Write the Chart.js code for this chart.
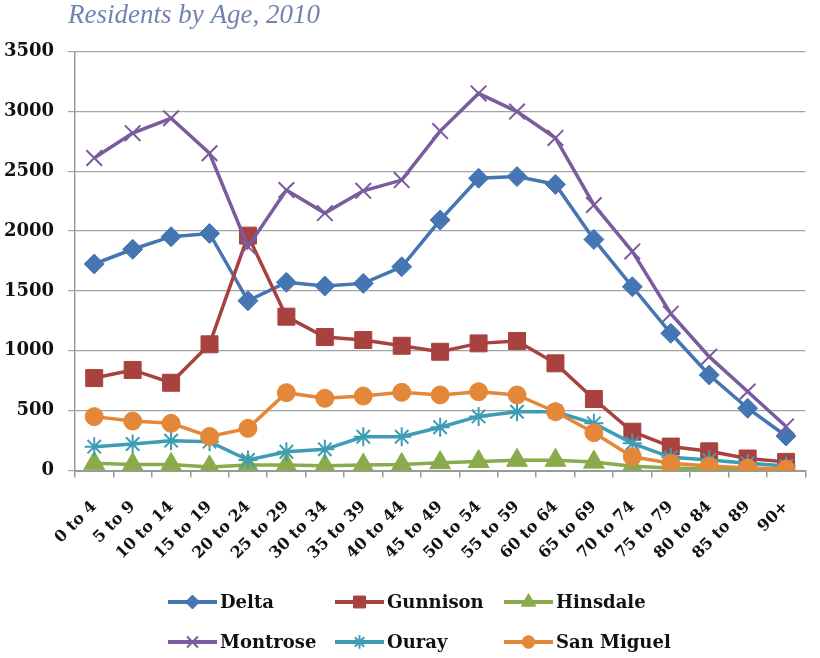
<!DOCTYPE html>
<html>
<head>
<meta charset="utf-8">
<script src="https://cdn.jsdelivr.net/npm/chart.js@4.4.1/dist/chart.umd.min.js"></script>
<style>
  html, body { margin: 0; padding: 0; background: #ffffff; }
  #wrap { position: relative; width: 820px; height: 658px; }
</style>
</head>
<body>
<div id="wrap"><canvas id="chart" width="820" height="658"></canvas></div>
<script>
// Age groups along the x axis
const ageGroups = ['0 to 4', '5 to 9', '10 to 14', '15 to 19', '20 to 24', '25 to 29', '30 to 34',
  '35 to 39', '40 to 44', '45 to 49', '50 to 54', '55 to 59', '60 to 64', '65 to 69',
  '70 to 74', '75 to 79', '80 to 84', '85 to 89', '90+'];

// Residents per age group, by county
const delta = [1725, 1848, 1953, 1980, 1418, 1572, 1541, 1563, 1702, 2092, 2441, 2455, 2390, 1930, 1535, 1146, 798, 520, 288];
const gunnison = [772, 840, 733, 1054, 1962, 1285, 1115, 1090, 1042, 992, 1062, 1082, 895, 597, 324, 200, 160, 100, 72];
const hinsdale = [60, 50, 50, 30, 45, 45, 40, 45, 50, 65, 75, 85, 85, 70, 35, 20, 15, 10, 5];
const montrose = [2610, 2818, 2942, 2650, 1870, 2343, 2150, 2336, 2426, 2835, 3150, 2998, 2778, 2218, 1830, 1310, 951, 660, 368];
const ouray = [199, 221, 249, 241, 88, 157, 177, 282, 282, 361, 452, 491, 491, 394, 227, 110, 88, 60, 38];
const sanMiguel = [450, 413, 394, 284, 352, 650, 603, 622, 653, 631, 658, 631, 491, 316, 115, 60, 38, 20, 12];

// Y axis range and step
const yMin = 0, yMax = 3500, yStep = 500;

const serif = '"DejaVu Serif", "Liberation Serif", serif';

function series(label, data, color, style, radius, order, pbw) {
  return {
    label, data,
    borderColor: color,
    backgroundColor: color,
    pointBackgroundColor: color,
    pointBorderColor: color,
    pointStyle: style,
    pointRadius: radius,
    pointHoverRadius: radius,
    pointBorderWidth: pbw,
    borderWidth: 3.5,
    tension: 0,
    order
  };
}

const datasets = [
  series('Delta', delta, '#4575b2', 'rectRot', 10, 6, 1),
  series('Gunnison', gunnison, '#a8423f', 'rect', 12, 5, 1),
  series('Hinsdale', hinsdale, '#8aab4c', 'triangle', 12, 4, 1),
  series('Montrose', montrose, '#7a5c9e', 'crossRot', 11, 3, 2),
  series('Ouray', ouray, '#3c9db4', 'star', 9.5, 2, 2),
  series('San Miguel', sanMiguel, '#e28838', 'circle', 9, 1, 1)
];

// Title text in the top-left corner
const titlePlugin = {
  id: 'cornerTitle',
  afterDraw(chart) {
    const ctx = chart.ctx;
    ctx.save();
    ctx.font = 'italic 27px "Liberation Serif", serif';
    ctx.fillStyle = '#7482b1';
    ctx.textAlign = 'left';
    ctx.textBaseline = 'alphabetic';
    ctx.fillText('Residents by Age, 2010', 68, 23);
    ctx.restore();
  }
};

// Two-row legend with a line segment and marker per series
const legendPlugin = {
  id: 'gridLegend',
  afterDraw(chart) {
    const ctx = chart.ctx;
    const cols = [168, 335, 504];
    const rows = [602, 642];
    chart.data.datasets.forEach((ds, i) => {
      const x0 = cols[i % 3];
      const y = rows[Math.floor(i / 3)];
      ctx.save();
      ctx.strokeStyle = ds.borderColor;
      ctx.lineWidth = 4;
      ctx.beginPath();
      ctx.moveTo(x0, y);
      ctx.lineTo(x0 + 49, y);
      ctx.stroke();
      ctx.fillStyle = ds.pointBackgroundColor;
      ctx.strokeStyle = ds.pointBorderColor;
      ctx.lineWidth = ds.pointBorderWidth;
      Chart.helpers.drawPoint(ctx, {
        pointStyle: ds.pointStyle,
        rotation: 0,
        radius: ds.pointRadius * 0.7,
        borderWidth: ds.pointBorderWidth
      }, x0 + 24.5, y);
      ctx.fillStyle = '#111111';
      ctx.font = 'bold 18px ' + serif;
      ctx.textAlign = 'left';
      ctx.textBaseline = 'middle';
      ctx.fillText(ds.label, x0 + 52, y + 1);
      ctx.restore();
    });
  }
};

new Chart(document.getElementById('chart'), {
  type: 'line',
  data: { labels: ageGroups, datasets },
  options: {
    responsive: false,
    animation: false,
    layout: { padding: { top: 51.5, left: 0, right: 4, bottom: 95 } },
    plugins: {
      legend: { display: false },
      title: { display: false },
      tooltip: { enabled: false }
    },
    scales: {
      x: {
        type: 'category',
        offset: true,
        afterFit(scale) { scale.height = 92.5; },
        grid: {
          offset: true,
          drawOnChartArea: false,
          drawTicks: true,
          tickLength: 7,
          color: '#9a9a9a',
          lineWidth: 1.5
        },
        border: { color: '#9a9a9a', width: 2 },
        ticks: {
          autoSkip: false,
          maxRotation: 45,
          minRotation: 45,
          padding: 20,
          color: '#111111',
          font: { family: serif, size: 16, weight: 'bold' }
        }
      },
      y: {
        min: yMin,
        max: yMax,
        afterFit(scale) { scale.width = 75; },
        grid: {
          color: '#a3a3a3',
          lineWidth: 1.2,
          drawTicks: true,
          tickLength: 7
        },
        border: { color: '#9a9a9a', width: 1.5 },
        ticks: {
          stepSize: yStep,
          padding: 14,
          color: '#111111',
          font: { family: serif, size: 18, weight: 'bold' },
          callback: (v) => String(v)
        }
      }
    }
  },
  plugins: [titlePlugin, legendPlugin]
});
</script>
</body>
</html>
